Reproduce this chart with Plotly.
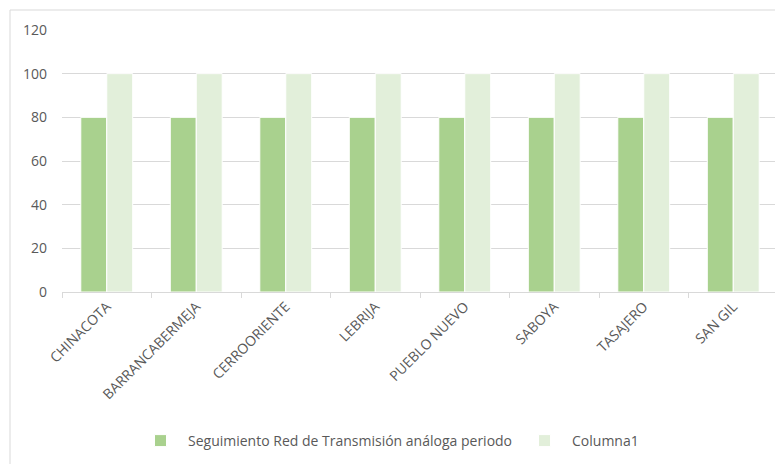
import plotly.graph_objects as go

categories = ["CHINACOTA", "BARRANCABERMEJA", "CERROORIENTE", "LEBRIJA",
              "PUEBLO NUEVO", "SABOYA", "TASAJERO", "SAN GIL"]
serie1 = [80, 80, 80, 80, 80, 80, 80, 80]
columna1 = [100, 100, 100, 100, 100, 100, 100, 100]
name1 = "Seguimiento Red de Transmisión análoga periodo"
name2 = "Columna1"

# page has an 8px body margin; figure sized to compensate
OFF = 8
W, H = 775, 456
L, R, T, B = 54, 5, 22, 172
pw = W - L - R
ph = H - T - B

def px_x(p):  # page pixel -> paper x
    return (p - OFF - L) / pw

def px_y(p):  # page pixel -> paper y
    return (H - B + OFF - p) / ph

fig = go.Figure()
fig.add_bar(x=categories, y=serie1, name=name1, marker_color="#A9D18E",
            marker_line_color="#FFFFFF", marker_line_width=1)
fig.add_bar(x=categories, y=columna1, name=name2, marker_color="#E2EFDA",
            marker_line_color="#FFFFFF", marker_line_width=1)

fig.update_layout(
    width=W, height=H,
    margin=dict(l=L, r=R, t=T, b=B, autoexpand=False),
    paper_bgcolor="white", plot_bgcolor="white",
    barmode="group", bargap=0.42, bargroupgap=0.0,
    font=dict(family="Open Sans", size=14, color="#595959"),
    showlegend=True,
    legend=dict(orientation="h", x=px_x(133), xanchor="left",
                y=px_y(441), yanchor="middle",
                font=dict(size=14, color="#595959"),
                itemwidth=45),
    xaxis=dict(tickangle=-45, showgrid=False, showline=True,
               linecolor="#D9D9D9", linewidth=1, ticks="outside",
               tickson="boundaries", ticklen=5, tickcolor="#D9D9D9",
               tickfont=dict(size=14, color="#595959")),
    yaxis=dict(range=[0, 120], dtick=20, showgrid=True, gridcolor="#D9D9D9",
               gridwidth=1, zeroline=False, showline=False,
               tickfont=dict(size=14, color="#595959"), ticklabelstandoff=14),
    shapes=[dict(type="rect", xref="paper", yref="paper",
                 x0=px_x(10), x1=px_x(800), y0=px_y(480), y1=px_y(10),
                 line=dict(color="#D9D9D9", width=1), layer="below")],
)

fig.write_html("out.html")
